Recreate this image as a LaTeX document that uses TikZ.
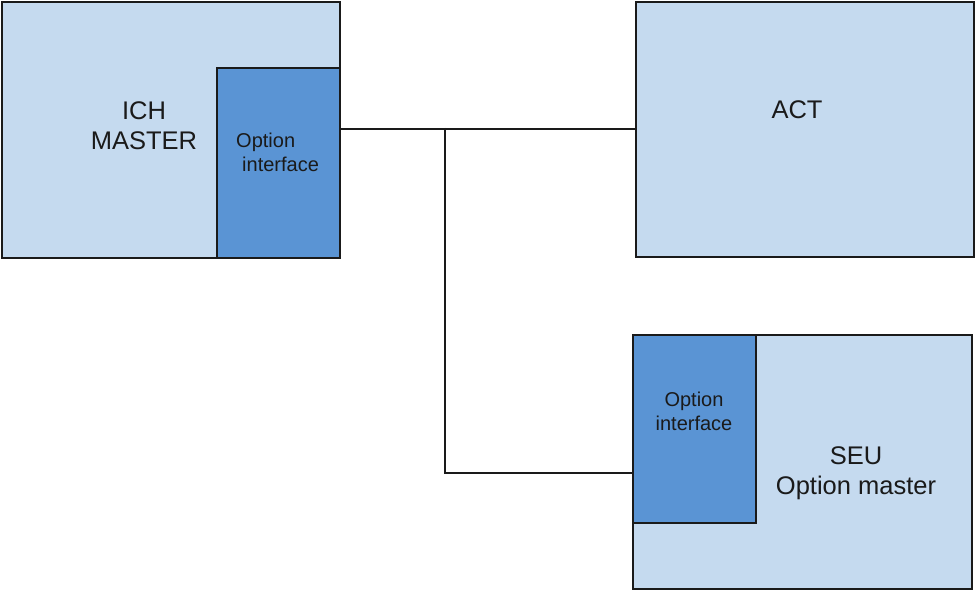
\documentclass[tikz,border=0pt]{standalone}
\usepackage{fontspec}
\setmainfont{Liberation Sans}
\definecolor{lightbox}{HTML}{C5DAEF}
\definecolor{darkbox}{HTML}{5A94D4}
\definecolor{ink}{HTML}{1A1A1A}
\tikzset{
  boxbase/.style={draw=ink, line width=2pt, inner sep=0pt, anchor=north west},
  bigbox/.style={boxbase, fill=lightbox},
  ifbox/.style={boxbase, fill=darkbox},
  biglabel/.style={text=ink, inner sep=0pt, font=\fontsize{25.5}{30}\selectfont},
  smalllabel/.style={text=ink, inner sep=0pt, font=\fontsize{20}{24}\selectfont},
  wire/.style={draw=ink, line width=2pt}
}
\begin{document}
\begin{tikzpicture}[x=1pt,y=-1pt]
\useasboundingbox (0,0) rectangle (975,591);
% boxes
\node[bigbox, minimum width=338pt, minimum height=256pt] (ich) at (1,1) {};
\node[ifbox, minimum width=123pt, minimum height=190pt] (oi1) at (216,67) {};
\node[bigbox, minimum width=338pt, minimum height=255pt] (act) at (635,1) {};
\node[bigbox, minimum width=339pt, minimum height=254pt] (seu) at (632,334) {};
\node[ifbox, minimum width=123pt, minimum height=188pt] (oi2) at (632,334) {};
% labels
\node[biglabel, align=center] (ichl) at (144,126) {ICH\\MASTER};
\node[smalllabel, align=left, anchor=west] (oi1l) at (236,152.8) {Option\\\hspace*{6pt}interface};
\node[biglabel, anchor=base] (actl) at (797,119) {ACT};
\node[smalllabel, align=center] (oi2l) at (694,411) {Option\\interface};
\node[biglabel, align=center] (seul) at (856,473.5) {SEU\\Option master};
% connectors
\coordinate (j) at (445,128);
\coordinate (k) at (632,473);
\draw[wire] (oi1.east |- act.west) -- (act.west);
\draw[wire] (j) |- (k);
\end{tikzpicture}
\end{document}
